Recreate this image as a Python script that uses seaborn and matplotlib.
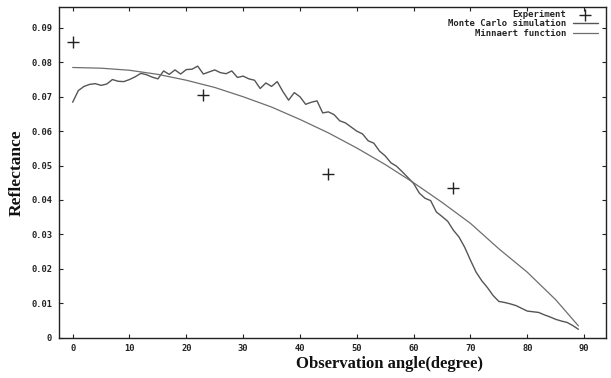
import numpy as np
import pandas as pd
import matplotlib
matplotlib.use("Agg")
import matplotlib.pyplot as plt
import seaborn as sns

# ---- data ----
exp_angle = [0, 23, 45, 67]
exp_refl = [0.0860, 0.0704, 0.0476, 0.0434]

mc_angle = list(range(0, 90))
mc_refl = [0.0684, 0.0718, 0.0730, 0.0736, 0.0738, 0.0733, 0.0737, 0.0750, 0.0745, 0.0744,
           0.0750, 0.0758, 0.0768, 0.0764, 0.0757, 0.0752, 0.0775, 0.0765, 0.0778, 0.0766,
           0.0779, 0.0780, 0.0789, 0.0766, 0.0772, 0.0778, 0.0770, 0.0767, 0.0775, 0.0756,
           0.0760, 0.0752, 0.0748, 0.0724, 0.0740, 0.0730, 0.0744, 0.0715, 0.0690, 0.0712,
           0.0700, 0.0678, 0.0684, 0.0688, 0.0653, 0.0656, 0.0648, 0.0630, 0.0624, 0.0612,
           0.0600, 0.0592, 0.0572, 0.0565, 0.0542, 0.0528, 0.0508, 0.0498, 0.0482, 0.0465,
           0.0448, 0.0420, 0.0405, 0.0398, 0.0365, 0.0352, 0.0338, 0.0312, 0.0292, 0.0262,
           0.0225, 0.0190, 0.0165, 0.0145, 0.0122, 0.0105, 0.0102, 0.0098, 0.0093, 0.0085,
           0.0077, 0.0075, 0.0073, 0.0066, 0.0060, 0.0053, 0.0048, 0.0044, 0.0035, 0.0024]

mn_angle = [0, 5, 10, 15, 20, 25, 30, 35, 40, 45, 50, 55, 60, 65, 70, 75, 80, 85, 89]
mn_refl = [0.0785, 0.0783, 0.0777, 0.0765, 0.0748, 0.0727, 0.0700, 0.0670, 0.0634, 0.0595,
           0.0551, 0.0503, 0.0450, 0.0393, 0.0332, 0.0258, 0.0190, 0.0110, 0.0034]

x_ticks = [0, 10, 20, 30, 40, 50, 60, 70, 80, 90]
y_ticks = [0, 0.01, 0.02, 0.03, 0.04, 0.05, 0.06, 0.07, 0.08, 0.09]
y_tick_labels = ["0", "0.01", "0.02", "0.03", "0.04", "0.05", "0.06", "0.07", "0.08", "0.09"]

# ---- plotting ----
sns.set_style("white")
fig = plt.figure(figsize=(6.11, 3.78), dpi=100)
ax = fig.add_axes([0.0966, 0.107, 0.8947, 0.8737])

df_exp = pd.DataFrame({"angle": exp_angle, "refl": exp_refl})
df_mc = pd.DataFrame({"angle": mc_angle, "refl": mc_refl})
df_mn = pd.DataFrame({"angle": mn_angle, "refl": mn_refl})

sns.scatterplot(data=df_exp, x="angle", y="refl", marker="+", s=70, color="#222222",
                linewidth=1.0, ax=ax, label="Experiment")
sns.lineplot(data=df_mc, x="angle", y="refl", color="#555555", linewidth=1.0, ax=ax,
             label="Monte Carlo simulation")
sns.lineplot(data=df_mn, x="angle", y="refl", color="#6e6e6e", linewidth=0.9, ax=ax,
             label="Minnaert function")

ax.set_xlim(-2.4, 93.8)
ax.set_ylim(0, 0.096)
ax.set_xticks(x_ticks)
ax.set_xticklabels([str(t) for t in x_ticks])
ax.set_yticks(y_ticks)
ax.set_yticklabels(y_tick_labels)

for lab in ax.get_xticklabels() + ax.get_yticklabels():
    lab.set_fontfamily("DejaVu Sans Mono")
    lab.set_fontweight("bold")
    lab.set_fontsize(6.3)
    lab.set_color("#222222")

ax.tick_params(axis="both", direction="in", length=3, width=0.8, color="#222222",
               top=True, right=True, bottom=True, left=True, pad=5)

for sp in ax.spines.values():
    sp.set_color("#222222")
    sp.set_linewidth(1.0)

ax.set_xlabel("Observation angle(degree)", family="Liberation Serif", weight="bold",
              size=12, color="#111111")
ax.xaxis.set_label_coords(0.605, -0.055, transform=ax.transAxes)
ax.xaxis.label.set_verticalalignment("top")
ax.set_ylabel("Reflectance", family="Liberation Serif", weight="bold",
              size=12.5, color="#111111")
ax.yaxis.set_label_coords(-0.062, 0.5, transform=ax.transAxes)

leg = ax.legend(loc="upper right", bbox_to_anchor=(0.99, 1.0), frameon=False,
                markerfirst=False,
                prop=dict(family="DejaVu Sans Mono", weight="bold", size=6.5),
                handlelength=2.7, handletextpad=0.8, labelspacing=0.05,
                borderaxespad=0.0, borderpad=0.3)

fig.savefig("out.png", dpi=100)
